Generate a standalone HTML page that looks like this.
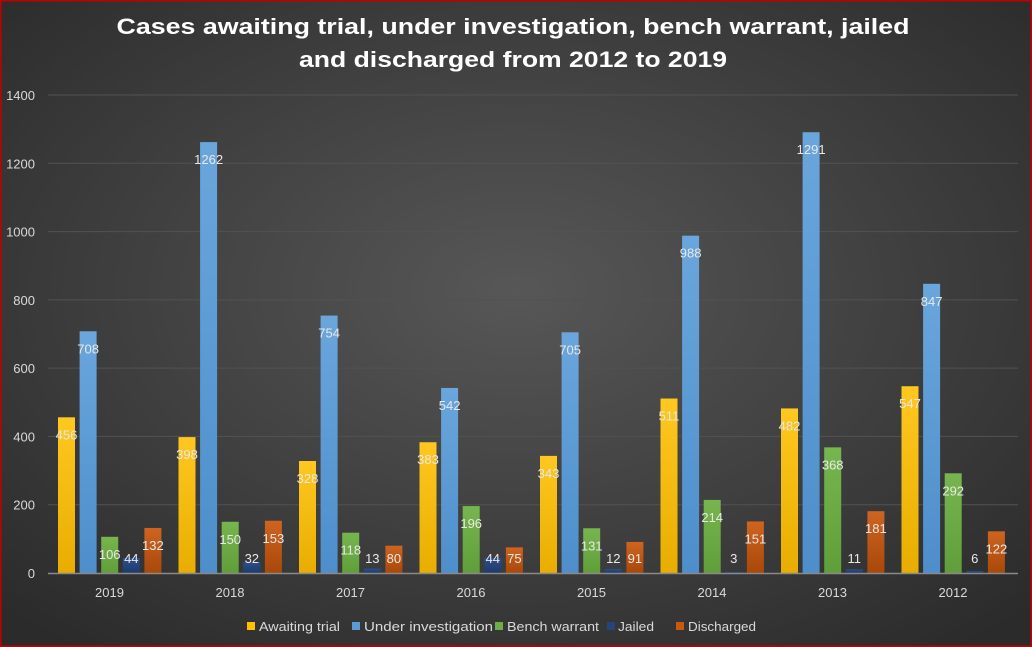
<!DOCTYPE html>
<html><head><meta charset="utf-8"><style>
html,body{margin:0;padding:0;width:1032px;height:647px;overflow:hidden;background:#3a3a3a}
svg{display:block;font-family:"Liberation Sans",sans-serif}
</style></head><body>
<svg width="1032" height="647" viewBox="0 0 1032 647">
<defs>
<radialGradient id="bg" cx="50%" cy="45%" r="70%">
<stop offset="0" stop-color="#575757"/><stop offset="1" stop-color="#2b2b2b"/></radialGradient>
<linearGradient id="gy" x1="0" y1="0" x2="0" y2="1"><stop offset="0" stop-color="#ffc820"/><stop offset="1" stop-color="#e8ad00"/></linearGradient>
<linearGradient id="gb" x1="0" y1="0" x2="0" y2="1"><stop offset="0" stop-color="#6aa6dc"/><stop offset="1" stop-color="#4d8ecb"/></linearGradient>
<linearGradient id="gg" x1="0" y1="0" x2="0" y2="1"><stop offset="0" stop-color="#77b64e"/><stop offset="1" stop-color="#5f9e3a"/></linearGradient>
<linearGradient id="gd" x1="0" y1="0" x2="0" y2="1"><stop offset="0" stop-color="#2c4f8c"/><stop offset="1" stop-color="#1e3a6a"/></linearGradient>
<linearGradient id="go" x1="0" y1="0" x2="0" y2="1"><stop offset="0" stop-color="#cf6420"/><stop offset="1" stop-color="#a8480a"/></linearGradient>
</defs>
<rect x="0" y="0" width="1032" height="647" fill="url(#bg)"/>
<rect x="0.5" y="0.5" width="1031" height="646" fill="none" stroke="#c00000" stroke-width="2"/>
<g fill="#ffffff" font-weight="bold" font-size="22" text-anchor="middle">
<text x="513" y="34" textLength="793" lengthAdjust="spacingAndGlyphs">Cases awaiting trial, under investigation, bench warrant, jailed</text>
<text x="513" y="67" textLength="428" lengthAdjust="spacingAndGlyphs">and discharged from 2012 to 2019</text>
</g>
<g id="grid" stroke="#525252" stroke-width="1"></g>
<g id="ylab" fill="#d9d9d9" font-size="13" text-anchor="end"></g>
<g id="bars"></g>
<line x1="48" y1="573.5" x2="1018" y2="573.5" stroke="#8a8a8a" stroke-width="1.5"/>
<g id="xlab" fill="#d9d9d9" font-size="13" text-anchor="middle"></g>
<g id="vlab" fill="#e8e8e8" font-size="13" text-anchor="middle"></g>
<g font-size="13" fill="#d9d9d9">
<rect x="247" y="622" width="8" height="8" fill="#ffc000"/><text x="259" y="631" textLength="81" lengthAdjust="spacingAndGlyphs">Awaiting trial</text>
<rect x="352" y="622" width="8" height="8" fill="#5b9bd5"/><text x="364" y="631" textLength="129" lengthAdjust="spacingAndGlyphs">Under investigation</text>
<rect x="495" y="622" width="8" height="8" fill="#70ad47"/><text x="507" y="631" textLength="92" lengthAdjust="spacingAndGlyphs">Bench warrant</text>
<rect x="607" y="622" width="8" height="8" fill="#264478"/><text x="618" y="631" textLength="36" lengthAdjust="spacingAndGlyphs">Jailed</text>
<rect x="676" y="622" width="8" height="8" fill="#c55a11"/><text x="688" y="631" textLength="68" lengthAdjust="spacingAndGlyphs">Discharged</text>
</g>
</svg>
<script>
var ns="http://www.w3.org/2000/svg";
function el(p,t,a,txt){var e=document.createElementNS(ns,t);for(var k in a)e.setAttribute(k,a[k]);if(txt!==undefined)e.textContent=txt;document.getElementById(p).appendChild(e);}
var y0=573,sc=(573-95)/1400;
for(var v=0;v<=1400;v+=200){var y=y0-v*sc;if(v>0)el("grid","line",{x1:48,x2:1018,y1:y,y2:y});el("ylab","text",{x:35,y:y+5},v);}
var years=["2019","2018","2017","2016","2015","2014","2013","2012"];
var d=[[456,708,106,44,132],[398,1262,150,32,153],[328,754,118,13,80],[383,542,196,44,75],[343,705,131,12,91],[511,988,214,3,151],[482,1291,368,11,181],[547,847,292,6,122]];
var fills=["url(#gy)","url(#gb)","url(#gg)","url(#gd)","url(#go)"];
for(var i=0;i<8;i++){var s=58+120.5*i;
 el("xlab","text",{x:s+51.5,y:597},years[i]);
 for(var j=0;j<5;j++){var x=s+j*21.6,h=d[i][j]*sc;
  el("bars","rect",{x:x,y:y0-h,width:17,height:h,fill:fills[j]});
  var ly=Math.min(y0-h+17,558);
  el("vlab","text",{x:x+8.5,y:ly+5},d[i][j]);}}
</script>
</body></html>
